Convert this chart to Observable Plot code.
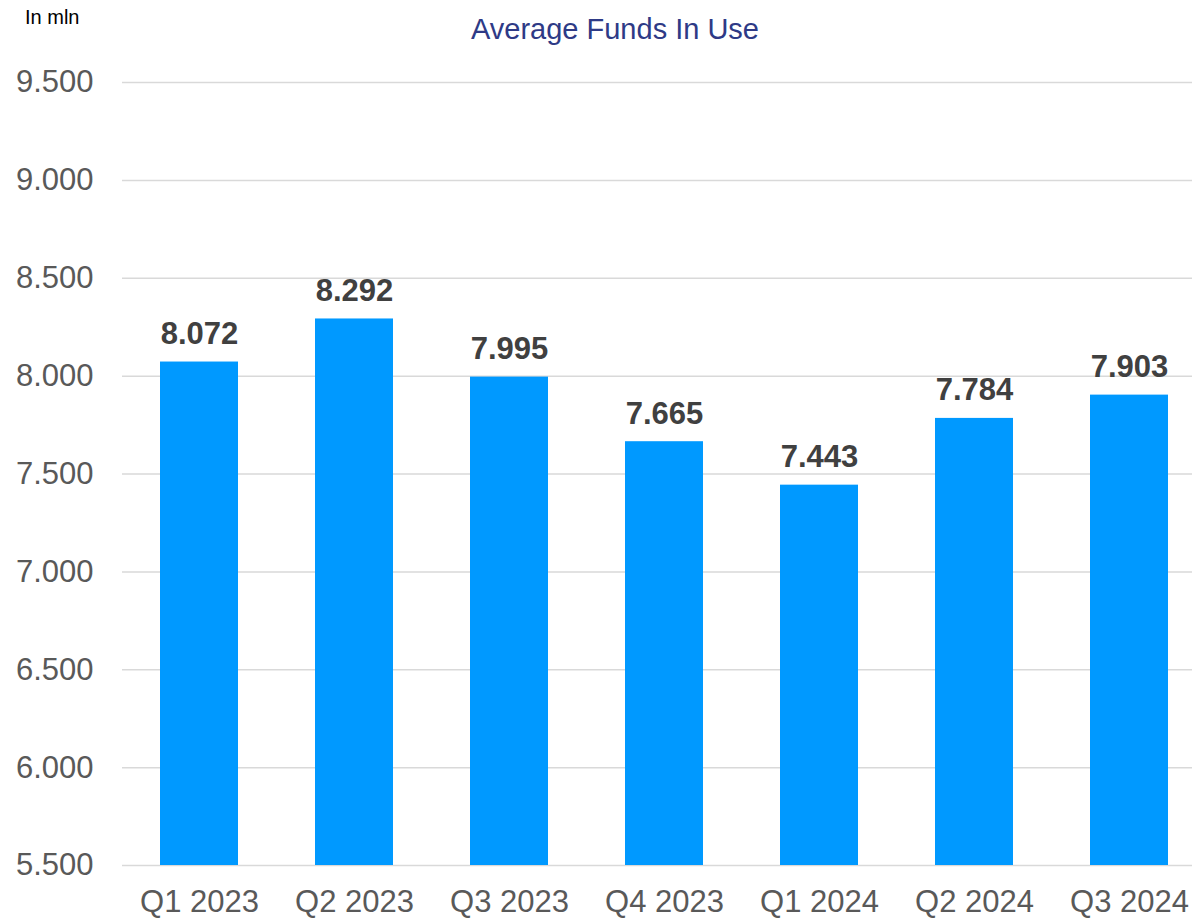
<!DOCTYPE html>
<html>
<head>
<meta charset="utf-8">
<script src="https://cdn.jsdelivr.net/npm/d3@7"></script>
<script src="https://cdn.jsdelivr.net/npm/@observablehq/plot@0.6"></script>
<style>
  html, body { margin: 0; padding: 0; background: #fff; }
  body { width: 1192px; height: 919px; overflow: hidden; font-family: "Liberation Sans", Arial, sans-serif; }
  #header { position: relative; height: 60px; width: 1192px; }
  #unit { position: absolute; left: 25px; top: 6px; font-size: 20px; color: #000; }
  #title { position: absolute; left: 0; width: 1230px; top: 13px; text-align: center; font-size: 29px; color: #2e3a86; }
  svg { display: block; }
</style>
</head>
<body>
<div id="header">
  <div id="unit">In mln</div>
  <div id="title">Average Funds In Use</div>
</div>
<div id="chart"></div>
<script>
const quarters = ["Q1 2023", "Q2 2023", "Q3 2023", "Q4 2023", "Q1 2024", "Q2 2024", "Q3 2024"];
const values = [8072, 8292, 7995, 7665, 7443, 7784, 7903];
const yTicks = [5500, 6000, 6500, 7000, 7500, 8000, 8500, 9000, 9500];
const yMin = 5500, yMax = 9500;

const data = quarters.map((q, i) => ({q, v: values[i]}));
const locale = d3.formatLocale({decimal: ",", thousands: ".", grouping: [3], currency: ["€", ""]});
const fmt = locale.format(",d");

const chart = Plot.plot({
  width: 1192,
  height: 859,
  marginTop: 22,
  marginBottom: 54,
  marginLeft: 122,
  marginRight: 0,
  style: {fontFamily: "'Liberation Sans', Arial, sans-serif", background: "#fff"},
  x: {type: "band", domain: quarters, paddingInner: 0.5, paddingOuter: 0.2016, align: 0.608, label: null},
  y: {domain: [yMin, yMax], label: null},
  marks: [
    Plot.ruleY(yTicks, {stroke: "#d9d9d9", strokeWidth: 1.5}),
    Plot.barY(data, {x: "q", y1: yMin, y2: "v", fill: "#0099ff"}),
    Plot.text(data, {x: "q", y: "v", text: d => fmt(d.v), dy: -28, fontSize: 31, fontWeight: "bold", fill: "#404040", textAnchor: "middle"}),
    Plot.axisY({ticks: yTicks, tickFormat: fmt, tickSize: 0, tickPadding: 29, fontSize: 31, color: "#595959", label: null}),
    Plot.axisX({tickSize: 0, tickPadding: 24, fontSize: 31, color: "#595959", label: null})
  ]
});
document.getElementById("chart").appendChild(chart);
</script>
</body>
</html>
